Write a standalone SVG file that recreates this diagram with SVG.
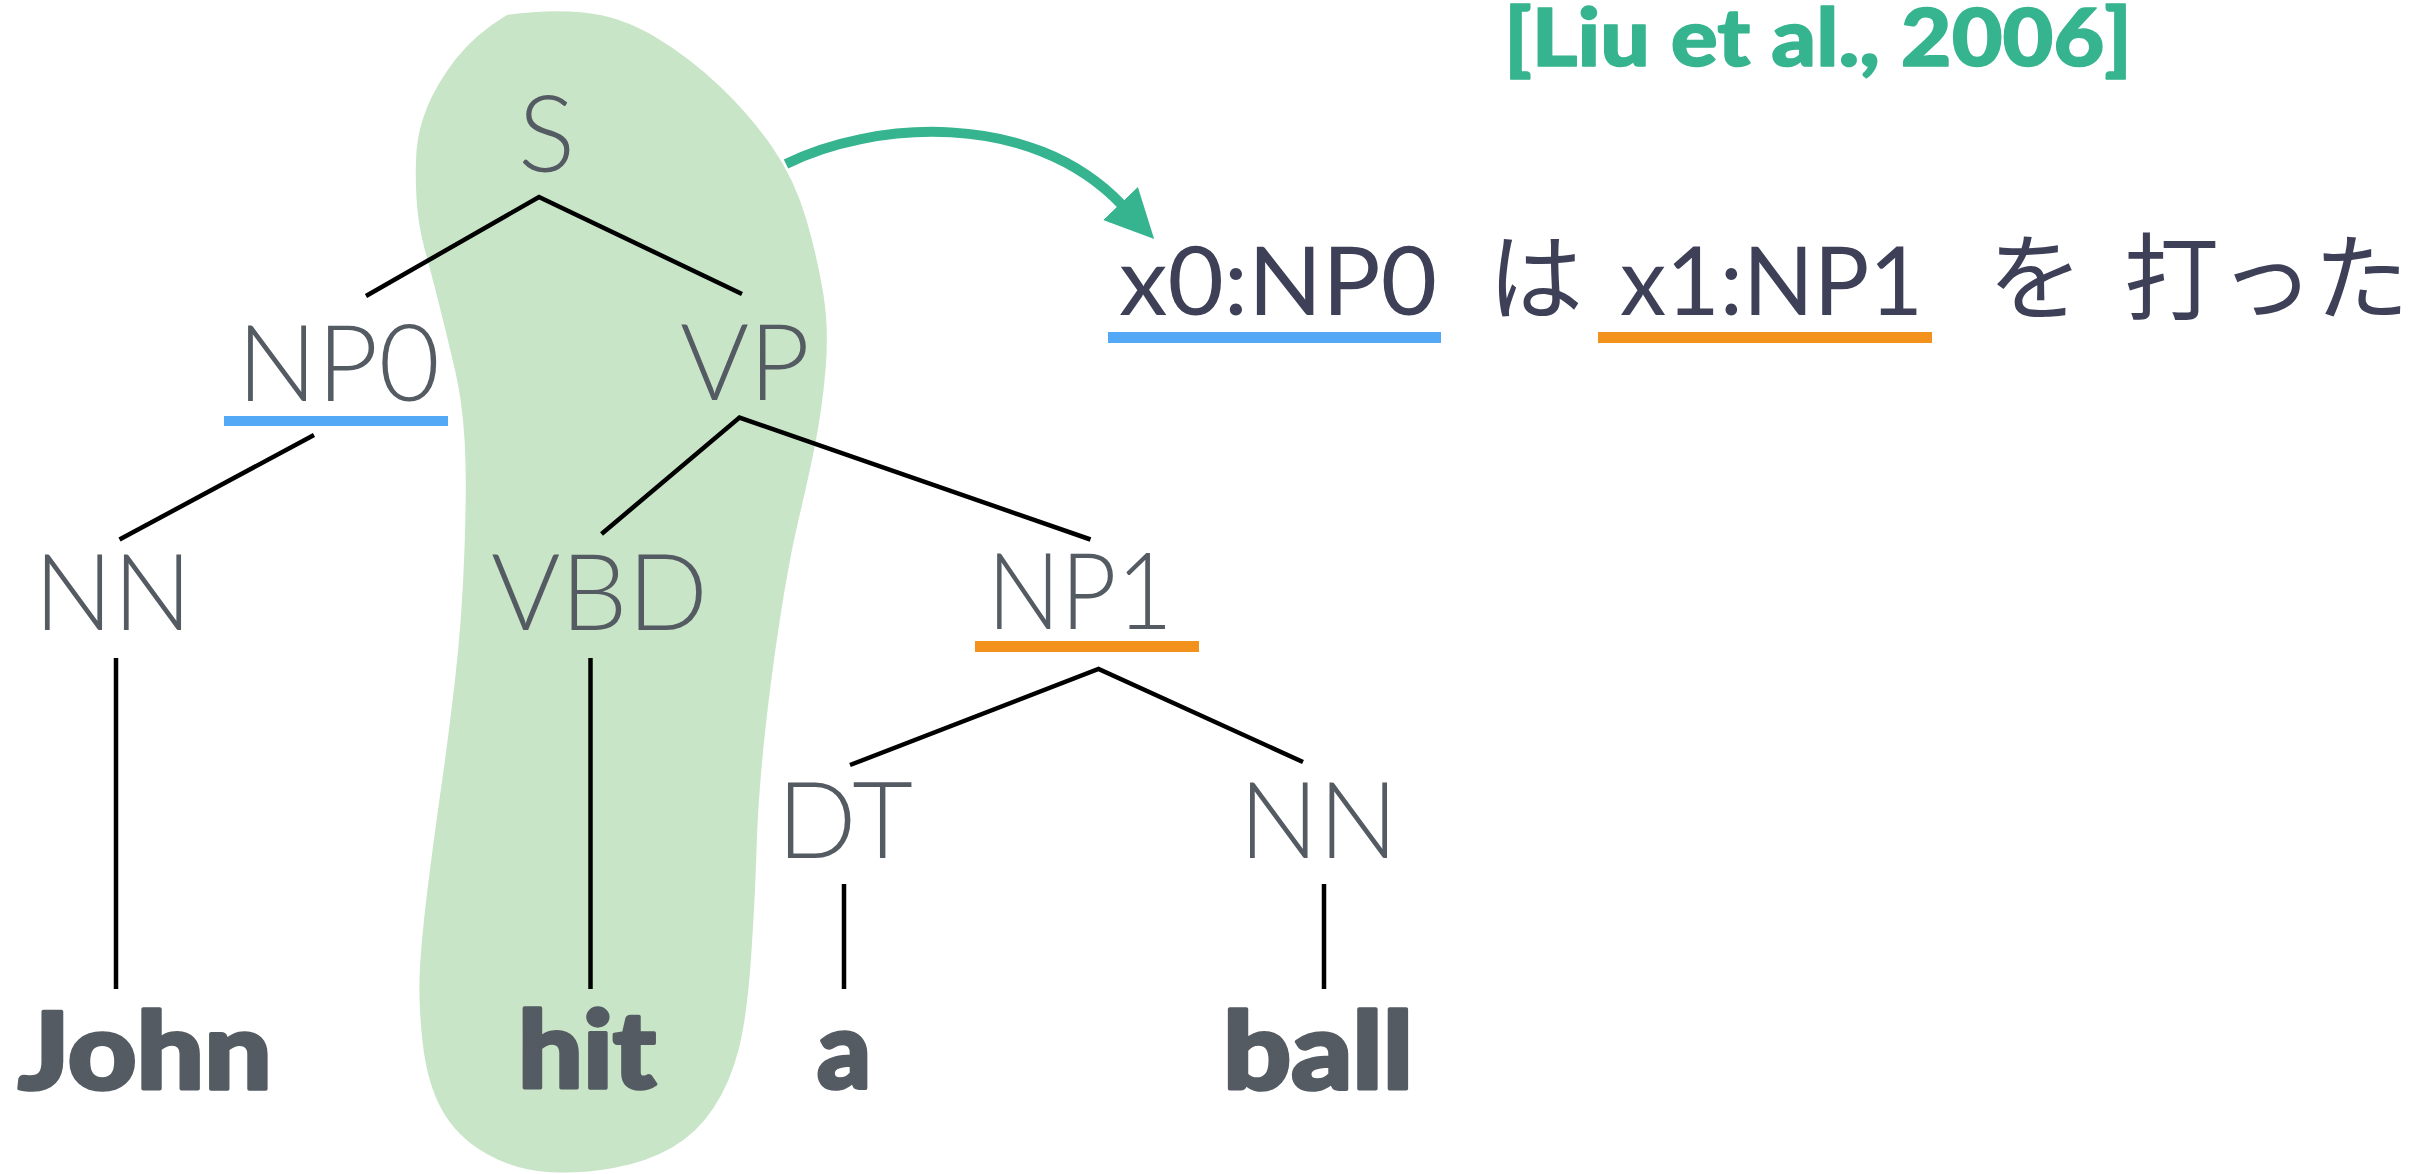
<svg xmlns="http://www.w3.org/2000/svg" width="2429" height="1174" viewBox="0 0 2429 1174">
  <style>
    .lbl { font-family: Lato, "Liberation Sans", sans-serif; font-weight: 300; font-size: 107px; fill: #545b62; }
    .word { font-family: Lato, "Liberation Sans", sans-serif; font-weight: 900; font-size: 107px; fill: #545b62; stroke: #545b62; stroke-width: 3.5; stroke-linejoin: round; }
    .tgt { font-family: Lato, "Liberation Sans", "Noto Sans CJK JP", sans-serif; font-weight: 400; font-size: 95px; fill: #3e4058; }
    .ja { font-family: "Noto Sans CJK JP", sans-serif; font-weight: 400; font-size: 95px; fill: #3e4058; }
    .cite { font-family: Lato, "Liberation Sans", sans-serif; font-weight: 900; font-size: 80px; fill: #36b48f; stroke: #36b48f; stroke-width: 1.5; stroke-linejoin: round; }
    .edge { stroke: #000; stroke-width: 4.5; fill: none; }
    .ul-blue { fill: #54a9f7; }
    .ul-orange { fill: #f3911d; }
  </style>
  <defs>
    <marker id="arrowhead" markerUnits="userSpaceOnUse" markerWidth="50" markerHeight="50" refX="2" refY="22" orient="auto" viewBox="0 0 46 44">
      <path d="M0,0 L45,22 L0,44 z" fill="#36b48f"/>
    </marker>
  </defs>

  <rect width="2429" height="1174" fill="#ffffff"/>

  <!-- extracted fragment shading -->
  <g id="fragment-highlight">
    <path fill="#c9e5c7" d="M507,15 Q547,9 583.5,12.5 Q620,16 654.5,36.5 Q689,57 719.5,86 Q750,115 772.5,147.5 Q795,180 806.5,220 Q818,260 823.5,295 Q829,330 825.5,370 Q822,410 815,445 Q808,480 798.5,520 Q789,560 779.5,622 Q770,684 764,742 Q758,800 756.5,850 Q755,900 751,958.5 Q747,1017 738.5,1050 Q730,1083 713.5,1108 Q697,1133 672,1147.5 Q647,1162 613.5,1168 Q580,1174 547.5,1172 Q515,1170 486,1153.5 Q457,1137 442,1110 Q427,1083 422.5,1041.5 Q418,1000 420,966.5 Q422,933 428.5,881.5 Q435,830 441.5,785 Q448,740 455,680 Q462,620 464.5,549 Q467,478 464.5,439 Q462,400 455,370 Q448,340 440,308 Q432,276 425,250.5 Q418,225 416.5,198.5 Q415,172 416.5,151 Q418,130 427,107.5 Q436,85 455,60 Q475,34 507,15 Z"/>
  </g>

  <!-- tree edges and the rule arrow -->
  <g id="connectors">
    <polyline class="edge" points="366,296 539,197 742,294"/>
    <line class="edge" x1="314" y1="435" x2="119.5" y2="539.5"/>
    <polyline class="edge" points="601.5,534 739.5,417.5 1090.5,539.5"/>
    <polyline class="edge" points="850,765 1098.5,669 1303,762"/>
    <line class="edge" x1="116" y1="658" x2="116" y2="989"/>
    <line class="edge" x1="590.5" y1="658" x2="590.5" y2="989"/>
    <line class="edge" x1="844" y1="884" x2="844" y2="989"/>
    <line class="edge" x1="1324" y1="884" x2="1324" y2="989"/>
    <path id="rule-arrow" d="M786,164 C870,122 1030,108 1122,205" fill="none" stroke="#36b48f" stroke-width="10" marker-end="url(#arrowhead)"/>
  </g>

  <!-- syntax tree nodes -->
  <g id="node-S"><text class="lbl" x="546.5" y="172" text-anchor="middle">S</text></g>
  <g id="node-NP0">
    <text class="lbl" x="237" y="401" textLength="203" lengthAdjust="spacingAndGlyphs">NP0</text>
    <rect class="ul-blue" x="224" y="416" width="224" height="10"/>
  </g>
  <g id="node-VP"><text class="lbl" x="680" y="400" textLength="130" lengthAdjust="spacingAndGlyphs">VP</text></g>
  <g id="node-NN-John"><text class="lbl" x="34" y="630" textLength="158" lengthAdjust="spacingAndGlyphs">NN</text></g>
  <g id="node-VBD"><text class="lbl" x="491" y="630" textLength="217" lengthAdjust="spacingAndGlyphs">VBD</text></g>
  <g id="node-NP1">
    <text class="lbl" x="987" y="629" textLength="186" lengthAdjust="spacingAndGlyphs">NP1</text>
    <rect class="ul-orange" x="975" y="641" width="224" height="11"/>
  </g>
  <g id="node-DT"><text class="lbl" x="777" y="858" textLength="136" lengthAdjust="spacingAndGlyphs">DT</text></g>
  <g id="node-NN-ball"><text class="lbl" x="1239" y="858" textLength="159" lengthAdjust="spacingAndGlyphs">NN</text></g>

  <!-- leaf words -->
  <g id="word-John"><text class="word" x="18" y="1089" textLength="254" lengthAdjust="spacingAndGlyphs">John</text></g>
  <g id="word-hit"><text class="word" x="518" y="1088" textLength="138" lengthAdjust="spacingAndGlyphs">hit</text></g>
  <g id="word-a"><text class="word" x="817" y="1088" textLength="54" lengthAdjust="spacingAndGlyphs">a</text></g>
  <g id="word-ball"><text class="word" x="1223" y="1089" textLength="190" lengthAdjust="spacingAndGlyphs">ball</text></g>

  <!-- target-side rule -->
  <g id="rule-target">
    <text class="tgt" x="1119" y="315" textLength="318" lengthAdjust="spacingAndGlyphs">x0:NP0</text>
    <rect class="ul-blue" x="1108" y="332" width="333" height="11"/>
    <text class="ja" x="1488" y="313">は</text>
    <text class="tgt" x="1620" y="315" textLength="303" lengthAdjust="spacingAndGlyphs">x1:NP1</text>
    <rect class="ul-orange" x="1598" y="332" width="334" height="11"/>
    <text class="ja" x="1988" y="313">を</text>
    <text class="ja" x="2124" y="313">打った</text>
  </g>

  <g id="citation"><text class="cite" x="1504" y="66" textLength="628" lengthAdjust="spacingAndGlyphs">[Liu et al., 2006]</text></g>
</svg>
